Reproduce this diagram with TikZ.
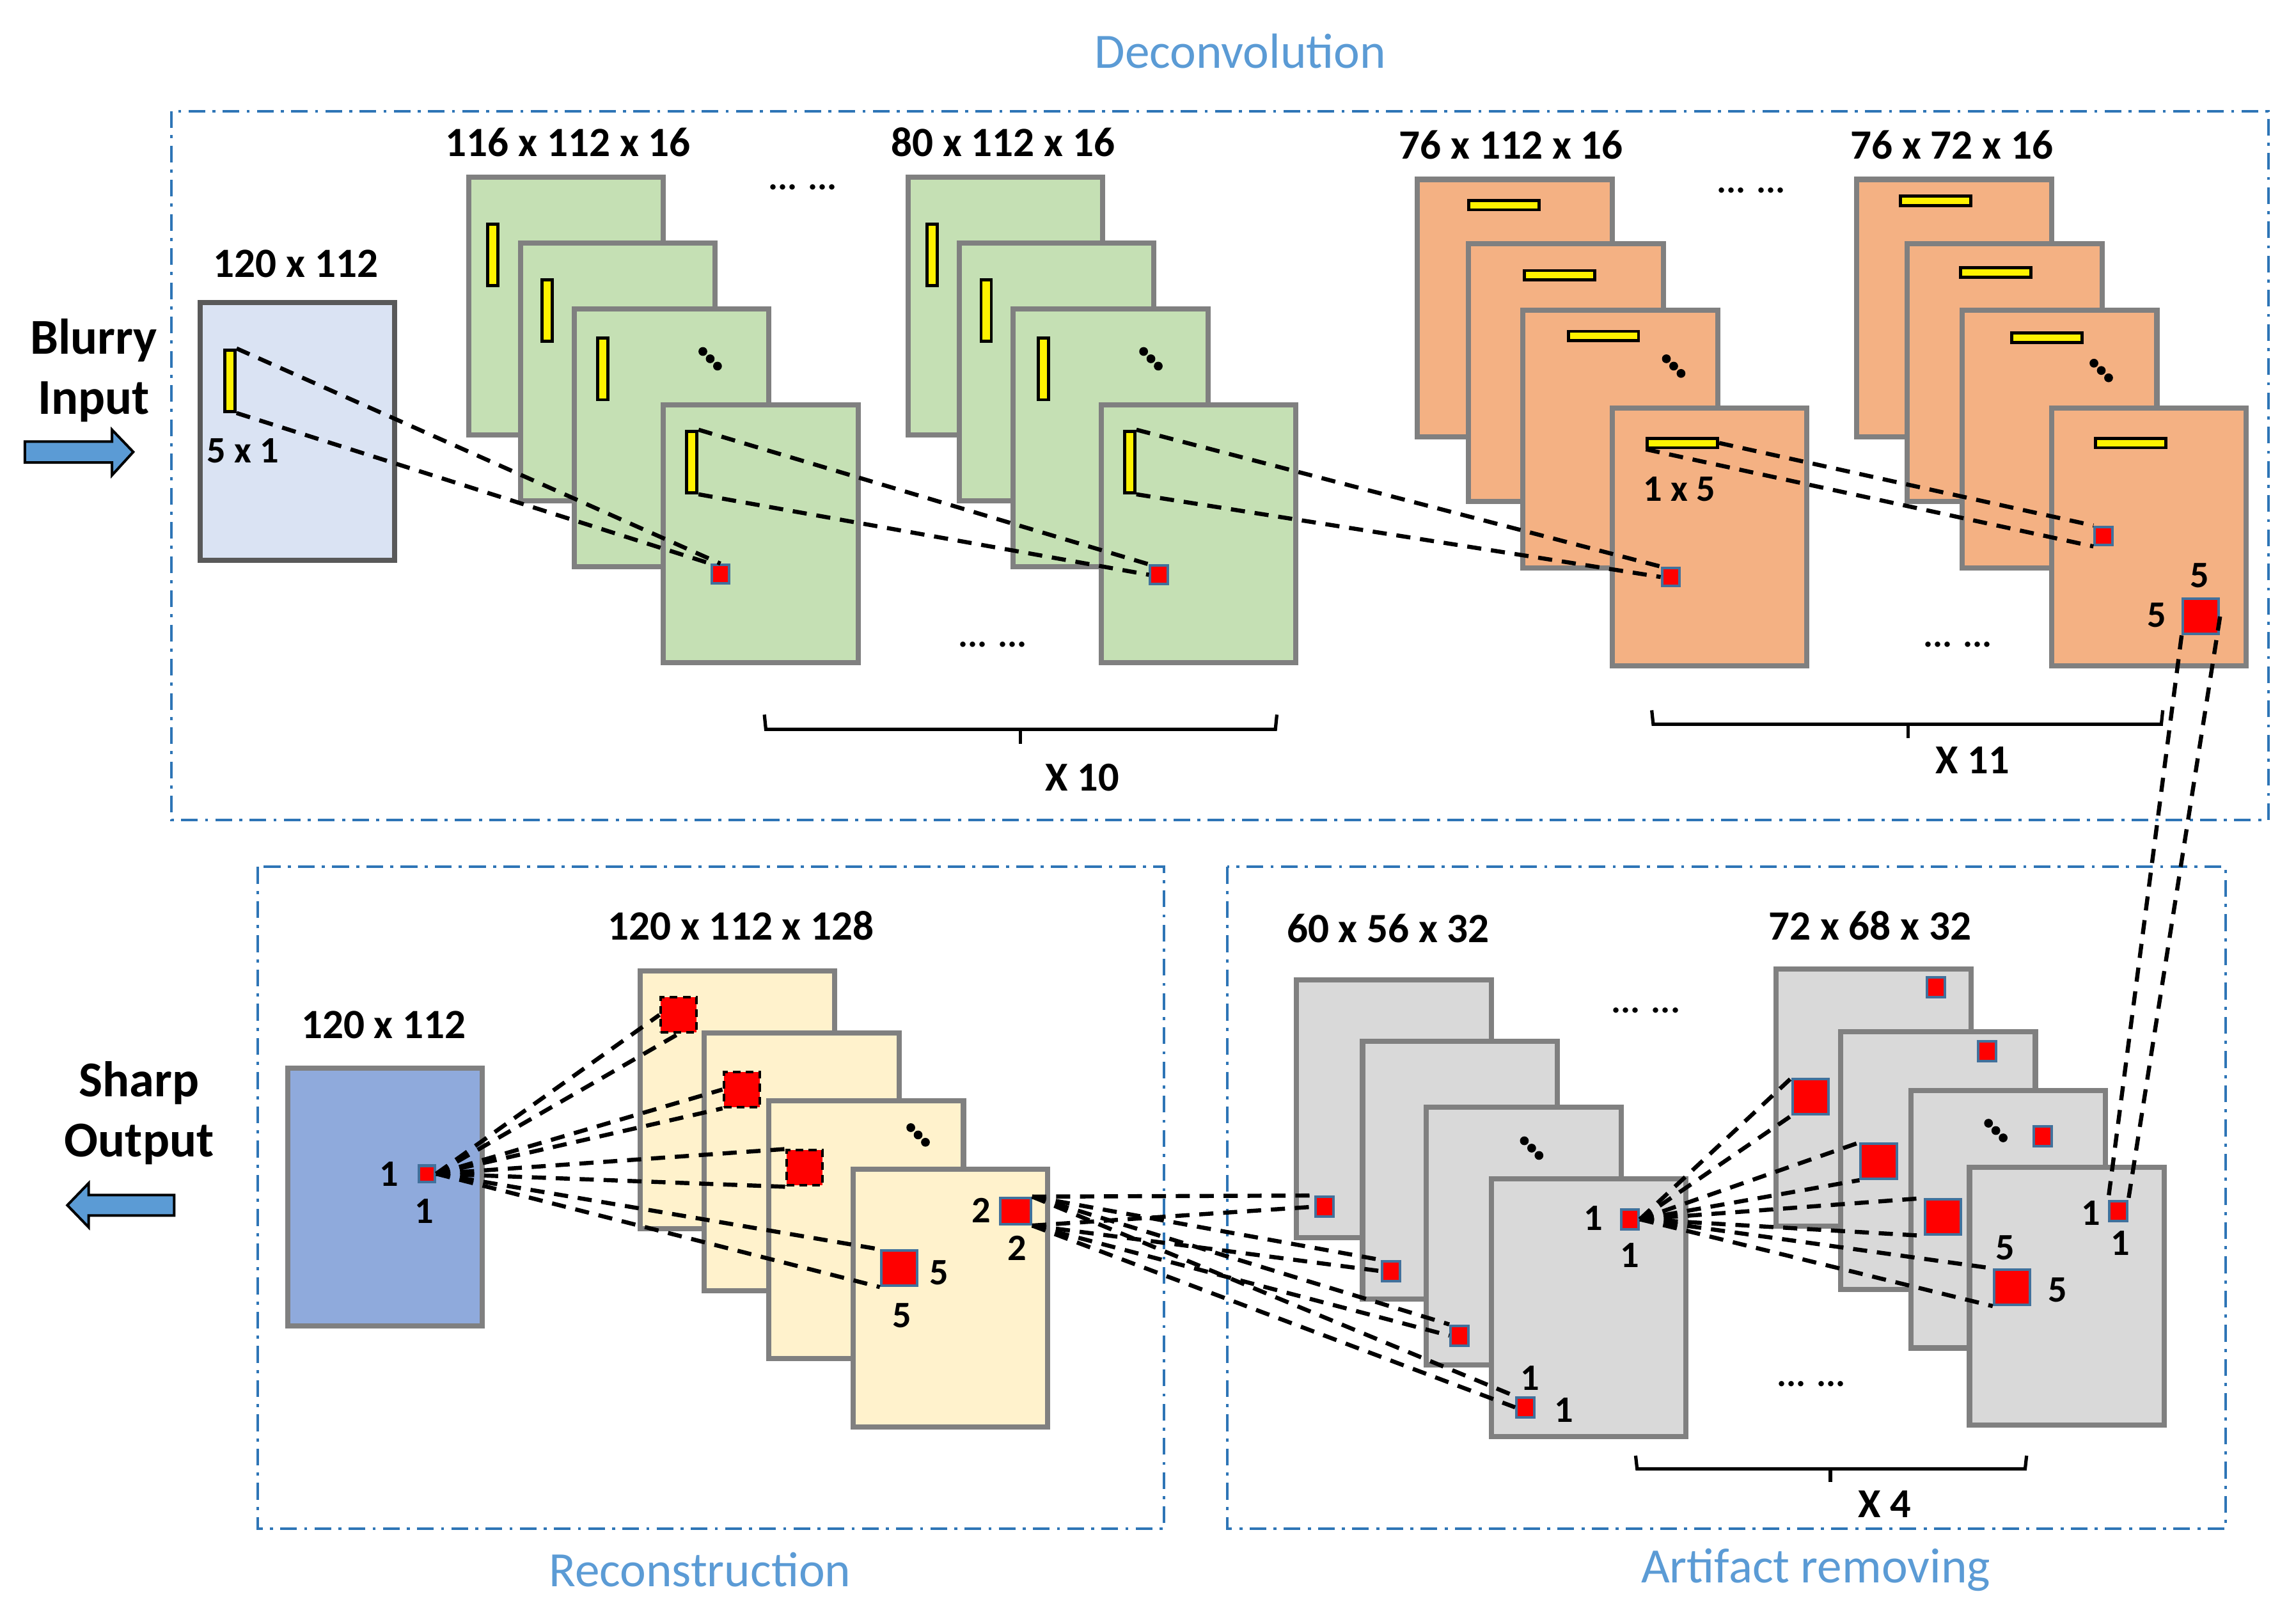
\documentclass[tikz,border=0pt]{standalone}
\usepackage{fontspec}
\setmainfont{Carlito}

\definecolor{convgreen}{HTML}{C5E0B4}
\definecolor{convorange}{HTML}{F4B183}
\definecolor{reconyellow}{HTML}{FFF2CC}
\definecolor{artgray}{HTML}{D9D9D9}
\definecolor{inblue}{HTML}{DAE3F3}
\definecolor{outblue}{HTML}{8FAADC}
\definecolor{framegray}{HTML}{808080}
\definecolor{darkframe}{HTML}{595959}
\definecolor{pixedge}{HTML}{41719C}
\definecolor{boxblue}{HTML}{2E75B6}
\definecolor{titleblue}{HTML}{5B9BD5}

\def\mapw{2.66cm}
\def\maph{3.52cm}

% three diagonal dots
\newcommand{\diagdots}[2]{%
  \foreach \k in {-5,0,5}
    \fill (#1+\k,#2+\k) circle (0.06cm);}

\begin{document}
\begin{tikzpicture}[x=0.02cm, y=-0.02cm,
    fmap/.style={draw=framegray, line width=2pt, minimum width=\mapw,
      minimum height=\maph, inner sep=0pt},
    vbar/.style={draw=black, fill=yellow, line width=1.2pt,
      minimum width=0.14cm, minimum height=0.84cm, inner sep=0pt},
    hbar/.style={draw=black, fill=yellow, line width=1.2pt,
      minimum width=0.96cm, minimum height=0.13cm, inner sep=0pt},
    pix/.style={draw=pixedge, fill=red, line width=1pt,
      minimum width=0.24cm, minimum height=0.25cm, inner sep=0pt},
    bigpix/.style={pix, minimum width=0.49cm, minimum height=0.48cm},
    dashpix/.style={bigpix, draw=black, dash pattern=on 3pt off 2pt},
    link/.style={line width=1.6pt, dash pattern=on 5.5pt off 3.8pt},
    group/.style={draw=boxblue, line width=1pt,
      dash pattern=on 6.5pt off 2.8pt on 1.2pt off 2.8pt},
    title/.style={text=titleblue, font=\fontsize{19.2}{23}\selectfont},
    side/.style={font=\bfseries\fontsize{19.5}{23.5}\selectfont, align=center},
    dim/.style={font=\bfseries\fontsize{16.2}{19}\selectfont},
    num/.style={font=\bfseries\fontsize{14.5}{17}\selectfont, inner sep=0pt},
    more/.style={font=\bfseries\fontsize{14}{17}\selectfont},
    brace/.style={line width=1.3pt},
    arrowbox/.style={draw=black, fill=titleblue, line width=1pt}]
  \useasboundingbox (0,0) rectangle (1568,1098);

  % group boxes
  \draw[group] (117,76) rectangle (1549,560);
  \draw[group] (176,592) rectangle (795,1044);
  \draw[group] (838,592) rectangle (1520,1044);
  \node[title] (deconv) at (847,35) {Deconvolution};
  \node[title] (recon) at (478,1072) {Reconstruction};
  \node[title] (artif) at (1240,1072) {Artifact removing};

  % input / output
  \node[side] (blurry) at (64,253) {Blurry\\Input};
  \filldraw[arrowbox] (17,301.5) -- (76.5,301.5) -- (76.5,293.5) -- (91,308.6)
    -- (76.5,324.5) -- (76.5,315.8) -- (17,315.8) -- cycle;
  \node[side] (sharp) at (95,760) {Sharp\\Output};
  \filldraw[arrowbox] (119,816) -- (60.5,816) -- (60.5,808) -- (46,823)
    -- (60.5,838) -- (60.5,830) -- (119,830) -- cycle;

  % feature maps
  \node[fmap, fill=inblue, draw=darkframe] (in) at (203,294.5) {};
  \foreach \n/\x/\y in {g1a/386.5/209, g1b/422/254, g1c/458.5/299, g1d/519.5/364.5,
      g2a/686.5/209, g2b/721.5/254, g2c/758.5/299, g2d/818.5/364.5}
    \node[fmap, fill=convgreen] (\n) at (\x,\y) {};
  \foreach \n/\x/\y in {o1a/1034.5/210.5, o1b/1069.5/254.5, o1c/1106.5/300, o1d/1167.5/366.5,
      o2a/1334.5/210.5, o2b/1369/254.5, o2c/1406.5/300, o2d/1467.5/366.5}
    \node[fmap, fill=convorange] (\n) at (\x,\y) {};
  \node[fmap, fill=outblue] (out) at (263,817.5) {};
  \foreach \n/\x/\y in {ya/503.5/751, yb/547.5/793.5, yc/591.5/839.5, yd/649/886.5}
    \node[fmap, fill=reconyellow] (\n) at (\x,\y) {};
  \foreach \n/\x/\y in {k1a/952/757, k1b/997/799, k1c/1040.5/844, k1d/1085/893,
      k2a/1279.5/749.5, k2b/1323.5/792.5, k2c/1371.5/832.5, k2d/1411.5/885}
    \node[fmap, fill=artgray] (\n) at (\x,\y) {};

  % kernels
  \foreach \n/\x/\y in {in/157/260, g1a/336.5/174, g1b/373.5/212, g1c/411.5/252,
      g1d/472.5/315.5, g2a/636.5/174, g2b/673.5/212, g2c/712.5/252, g2d/771.5/315.5}
    \node[vbar] (\n bar) at (\x,\y) {};
  \foreach \n/\x/\y in {o1a/1027/140, o1b/1065/188, o1c/1095/229.5, o1d/1149/302.5,
      o2a/1322/137, o2b/1363/186, o2c/1398/230.5, o2d/1455/302.5}
    \node[hbar] (\n bar) at (\x,\y) {};

  % pixels
  \node[pix] (g1dpix) at (492,392) {};
  \node[pix] (g2dpix) at (791.5,392.5) {};
  \node[pix] (o1dpix) at (1141,394) {};
  \node[pix] (o2dpix) at (1436.5,366) {};
  \node[bigpix] (o2dbig) at (1503,421) {};
  \node[pix, minimum width=0.22cm, minimum height=0.22cm] (outpix) at (291.5,801.5) {};
  \node[dashpix] (yapix) at (463.5,693) {};
  \node[dashpix] (ybpix) at (506.5,744) {};
  \node[dashpix] (ycpix) at (549.5,797.5) {};
  \node[bigpix] (ydbig) at (614,866) {};
  \node[pix, minimum width=0.42cm, minimum height=0.36cm] (ydpix) at (693.5,827) {};
  \foreach \n/\x/\y in {k1apix/904.6/824, k1bpix/950/868, k1cpix/996.6/912,
      k1dlow/1041.6/961, k1dpix/1113/832.6, k2asmall/1322/674, k2bsmall/1357/718,
      k2csmall/1395/776, k2dpix/1446.6/827}
    \node[pix, minimum height=0.27cm] (\n) at (\x,\y) {};
  \foreach \n/\x/\y in {k2abig/1236.5/749, k2bbig/1283/793, k2cbig/1327/831, k2dbig/1374/879}
    \node[bigpix] (\n) at (\x,\y) {};

  % dots
  \diagdots{485}{245}
  \diagdots{786}{245}
  \diagdots{1143}{250}
  \diagdots{1435}{253}
  \diagdots{627}{775}
  \diagdots{1046}{784}
  \diagdots{1363}{772}
  \foreach \n/\x/\y in {m1/548/128, m2/678/440, m3/1196/130, m4/1337/440,
      m5/1124/690, m6/1237/945}
    \node[more] (\n) at (\x,\y) {... ...};

  % sizes
  \node[dim] (dimin) at (202,180) {120 x 112};
  \node[dim] (dimg1) at (388,97) {116 x 112 x 16};
  \node[dim] (dimg2) at (685,97) {80 x 112 x 16};
  \node[dim] (dimo1) at (1032,99) {76 x 112 x 16};
  \node[dim] (dimo2) at (1333,99) {76 x 72 x 16};
  \node[dim] (dimout) at (262,700) {120 x 112};
  \node[dim] (dimy) at (506,632) {120 x 112 x 128};
  \node[dim] (dimk1) at (948,634) {60 x 56 x 32};
  \node[dim] (dimk2) at (1277,632) {72 x 68 x 32};

  % kernel sizes
  \node[num] (kin) at (166,308) {5 x 1};
  \node[num] (ko1) at (1147,334) {1 x 5};
  \foreach \n/\x/\y/\t in {ka/1502/393/5, kb/1473/420/5, kc/265.5/801.5/1, kd/289.5/827/1,
      ke/641.5/869/5, kf/616/898.5/5, kg/670/826.5/2, kh/694.5/852.5/2,
      ki/1088/832/1, kj/1113/857/1, kk/1045/941/1, kl/1068/963/1,
      km/1428/828.5/1, kn/1448/849/1, ko/1369.5/852/5, kp/1405/881/5}
    \node[num] (\n) at (\x,\y) {\t};

  % repeat braces
  \draw[brace] (522,488) -- (523,498) -- (871,498) -- (872,488);
  \draw[brace] (697,498) -- (697,508);
  \node[dim, font=\bfseries\fontsize{16}{19}\selectfont] (x10) at (739,531) {X 10};
  \draw[brace] (1128,485) -- (1129,494.5) -- (1476,494.5) -- (1477,485);
  \draw[brace] (1303,494.5) -- (1303,504);
  \node[dim, font=\bfseries\fontsize{16}{19}\selectfont] (x11) at (1347,519) {X 11};
  \draw[brace] (1117,994) -- (1118,1003) -- (1383,1003) -- (1384,994);
  \draw[brace] (1250,1003) -- (1250,1012);
  \node[dim, font=\bfseries\fontsize{16}{19}\selectfont] (x4) at (1287,1027) {X 4};

  % receptive field links
  \draw[link] (inbar.north east) -- (g1dpix.north);
  \draw[link] (inbar.south east) -- (g1dpix.north west);
  \draw[link] (g1dbar.north east) -- (g2dpix.north west);
  \draw[link] (g1dbar.south east) -- (g2dpix.west);
  \draw[link] (g2dbar.north east) -- (o1dpix.north west);
  \draw[link] (g2dbar.south east) -- (o1dpix.west);
  \draw[link] (o1dbar.east) -- (o2dpix.north west);
  \draw[link] (o1dbar.south west) -- (o2dpix.south west);
  \draw[link] (o2dbig.south west) -- (k2dpix.north west);
  \draw[link] (o2dbig.east) -- (k2dpix.north east);
  \foreach \t in {k2abig, k2bbig, k2cbig, k2dbig} {
    \draw[link] (k1dpix.east) -- (\t.north west);
    \draw[link] (k1dpix.east) -- (\t.south west);
  }
  \foreach \t in {k1apix, k1bpix, k1cpix, k1dlow} {
    \draw[link] (ydpix.north east) -- (\t.north west);
    \draw[link] (ydpix.south east) -- (\t.west);
  }
  \foreach \t in {yapix.west, yapix.south, ybpix.west, ybpix.south west,
      ycpix.north west, ycpix.south west, ydbig.north west, ydbig.south west}
    \draw[link] (outpix.east) -- (\t);
\end{tikzpicture}
\end{document}
